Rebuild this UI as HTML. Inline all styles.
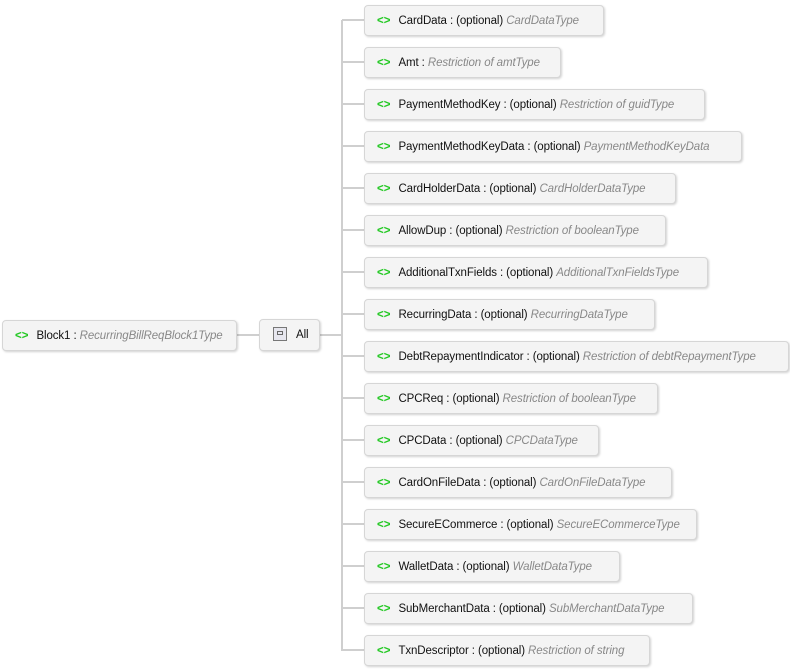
<!DOCTYPE html>
<html><head><meta charset="utf-8"><style>
body{margin:0;width:790px;height:672px;background:#fff;position:relative;overflow:hidden;font-family:"Liberation Sans","DejaVu Sans",sans-serif;font-size:11.5px;color:#111;}
.b{position:absolute;height:29px;background:#f4f4f4;border:1px solid #d6d6d6;border-radius:4px;box-shadow:1px 1px 2px rgba(0,0,0,0.18);box-sizing:border-box;line-height:28px;white-space:nowrap;padding-left:12px;overflow:hidden;letter-spacing:-0.1px}
.i{color:#22c822;font-weight:bold;margin-right:8px;letter-spacing:0px}
.t{color:#888;font-style:italic}
.l{position:absolute;background:#cfcfcf}
</style></head><body>
<div class="l" style="left:341px;top:20px;width:2px;height:631px"></div>
<div class="l" style="left:237px;top:334px;width:22px;height:2px"></div>
<div class="l" style="left:320px;top:334px;width:22px;height:2px"></div>

<div class="b" style="left:2px;top:320px;width:235px;height:31px;line-height:30px">
<span class="i">&lt;&gt;</span>Block1 : <span class="t">RecurringBillReqBlock1Type</span></div>
<div class="b" style="left:259px;top:319px;width:61px;height:32px;line-height:31px;padding-left:13px">
<span style="display:inline-block;width:12px;height:12px;border:1px solid #777;background:#e6e6ee;vertical-align:-3px;margin-right:9px;position:relative"><span style="position:absolute;left:3px;top:3px;width:6px;height:4px;border:1px solid #666;box-sizing:border-box"></span></span>All</div>

<div id="c"></div>
<script>
var d=[["CardData",1,"CardDataType",604],["Amt",0,"Restriction of amtType",561],["PaymentMethodKey",1,"Restriction of guidType",705],["PaymentMethodKeyData",1,"PaymentMethodKeyData",742],["CardHolderData",1,"CardHolderDataType",676],["AllowDup",1,"Restriction of booleanType",666],["AdditionalTxnFields",1,"AdditionalTxnFieldsType",708],["RecurringData",1,"RecurringDataType",655],["DebtRepaymentIndicator",1,"Restriction of debtRepaymentType",789],["CPCReq",1,"Restriction of booleanType",658],["CPCData",1,"CPCDataType",599],["CardOnFileData",1,"CardOnFileDataType",672],["SecureECommerce",1,"SecureECommerceType",697],["WalletData",1,"WalletDataType",620],["SubMerchantData",1,"SubMerchantDataType",693],["TxnDescriptor",1,"Restriction of string",650]];
var h="";
d.forEach(function(r,k){var c=20+42*k;
h+='<div class="l" style="left:342px;top:'+(c-1)+'px;width:22px;height:2px"></div>';
h+='<div class="b" style="left:364px;top:'+(c-15)+'px;width:'+(r[3]-364)+'px;height:31px;line-height:30px"><span class="i">&lt;&gt;</span>'+r[0]+' : '+(r[1]?'(optional) ':'')+'<span class="t">'+r[2]+'</span></div>';});
document.getElementById("c").innerHTML=h;
</script>
</body></html>
